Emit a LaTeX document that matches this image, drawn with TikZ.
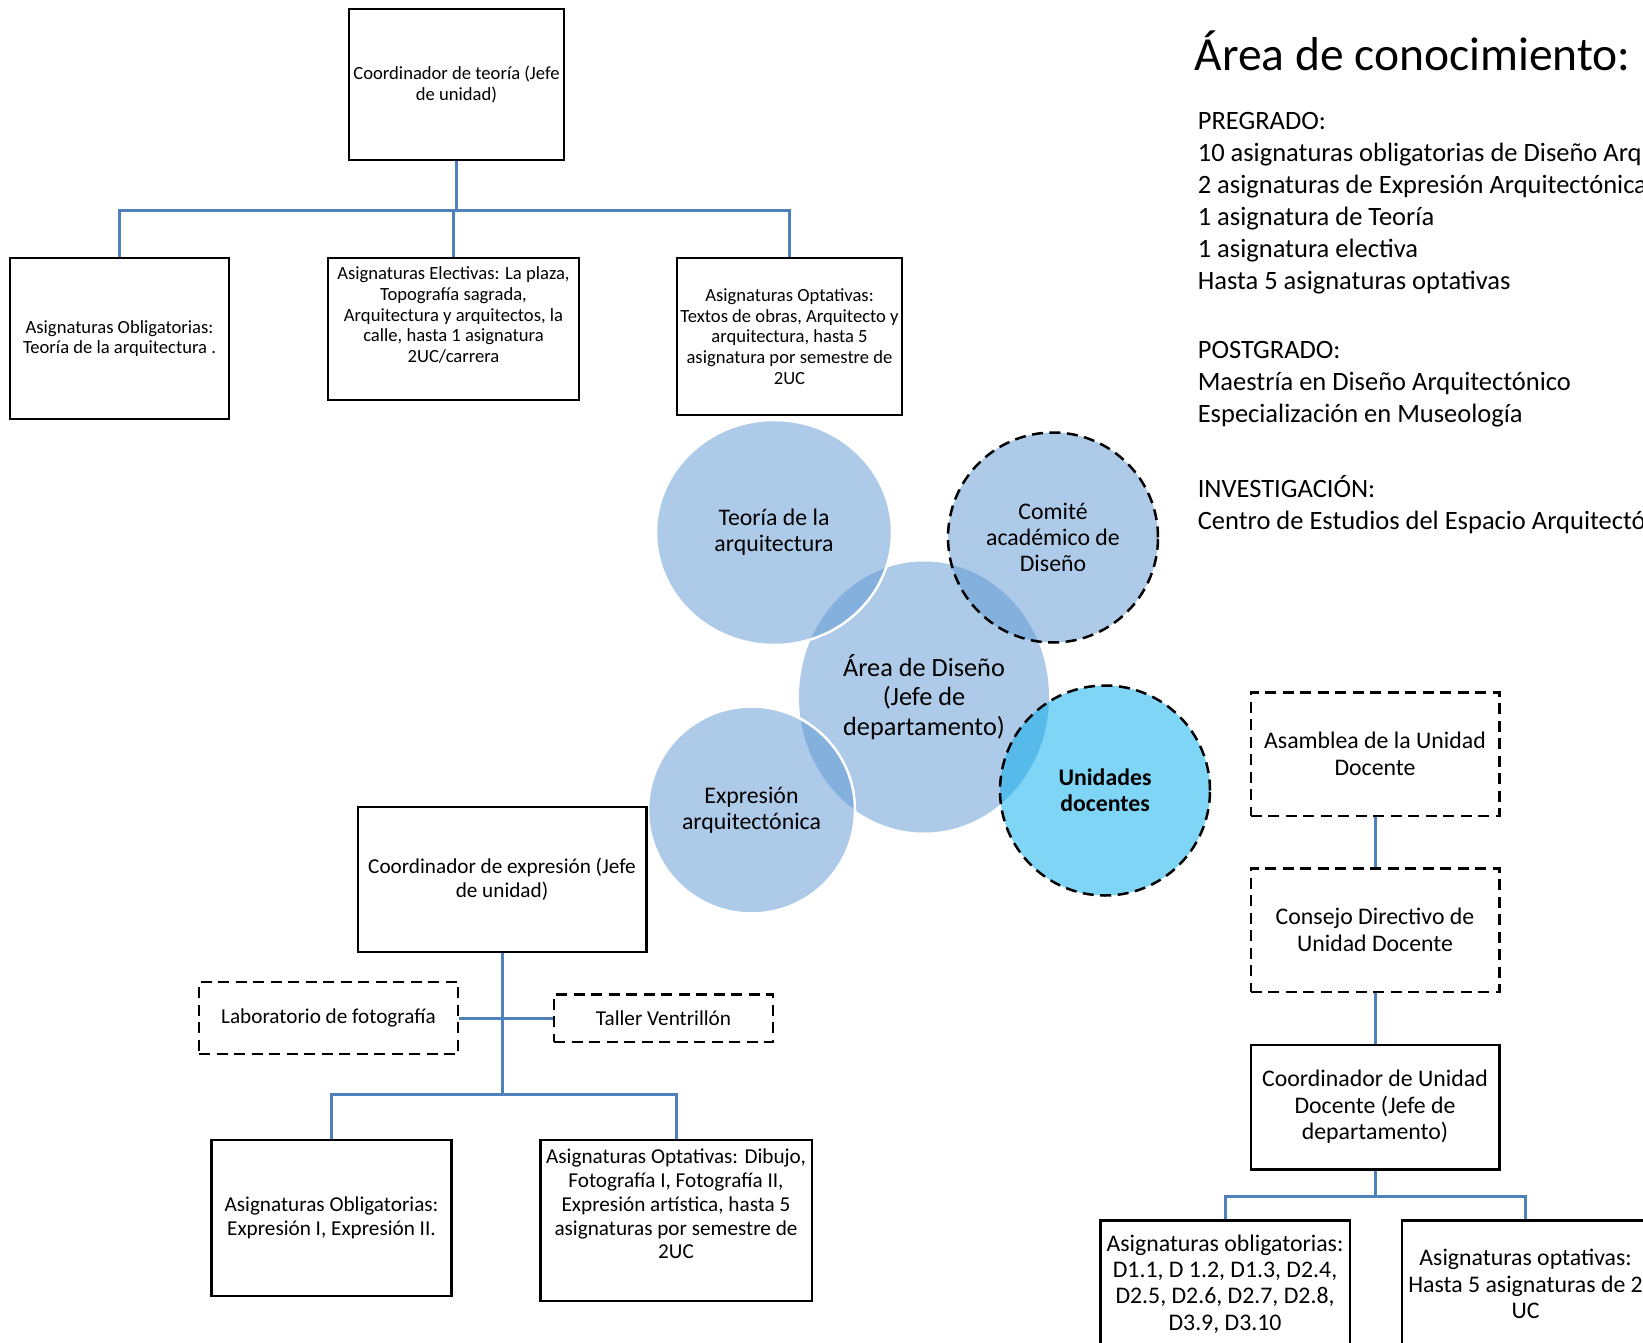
\documentclass[tikz,border=0pt]{standalone}
\usepackage{fontspec}
\setmainfont{Carlito}
\usetikzlibrary{shapes.geometric}
\definecolor{azulenlace}{RGB}{79,129,189}
\definecolor{azulcirc}{RGB}{93,151,211}
\definecolor{cianud}{RGB}{1,173,239}
\newcommand{\fuente}[2]{\fontsize{#1}{#2}\selectfont}
\begin{document}
\begin{tikzpicture}[x=1pt,y=-1pt,line join=miter,
		caja/.style={draw,line width=2.5pt,inner sep=0pt,align=center},
		cajapunt/.style={caja,dash pattern=on 11pt off 6.5pt},
		enlace/.style={draw=azulenlace,line width=3pt},
		circulo/.style={ellipse,fill=azulcirc,fill opacity=.5,text opacity=1,inner sep=0pt,align=center,font=\fuente{23.8}{26.2}},
		borde/.style={draw=white,line width=2.5pt},
		punteado/.style={draw=black,draw opacity=1,line width=2.5pt,dash pattern=on 11pt off 6.5pt},
		chica/.style={font=\fuente{18.6}{20.6}},
		media/.style={font=\fuente{21.2}{23.8}},
		grande/.style={font=\fuente{23.8}{26.4}},
		lista/.style={anchor=base west,inner sep=0pt,font=\fuente{26.5}{32}}]
	\fill[white] (0,0) rectangle (1643,1343);
	\useasboundingbox (0,0) rectangle (1643,1343);
	% teoria
	\node[caja,chica,minimum width=215pt,minimum height=151pt] (coordT) at (456.5,84.5) {Coordinador de teoría (Jefe\\de unidad)};
	\node[caja,chica,minimum width=219pt,minimum height=161pt] (oblT) at (119.5,338.5) {Asignaturas Obligatorias:\\Teoría de la arquitectura .};
	\node[caja,minimum width=251pt,minimum height=142pt] (elecT) at (453.5,329) {};
	\node[chica,align=center] (elecTx) at (453.5,315) {Asignaturas Electivas: La plaza,\\Topografía sagrada,\\Arquitectura y arquitectos, la\\calle, hasta 1 asignatura\\2UC/carrera};
	\node[caja,chica,minimum width=225pt,minimum height=157pt] (optT) at (789.5,336.5) {Asignaturas Optativas:\\Textos de obras, Arquitecto y\\arquitectura, hasta 5\\asignatura por semestre de\\2UC};
	\draw[enlace] (coordT.south) -- ++(0,49.5) coordinate (barT);
	\foreach \h in {oblT,elecT,optT}{
		\draw[enlace] (barT) -| (\h.north);
	};
	% circulos
	\node[circulo,minimum width=250pt,minimum height=271pt,font=\fuente{26.3}{29.3}] (area) at (924,697) {Área de Diseño\\(Jefe de\\departamento)};
	\node[circulo,borde,minimum width=236pt,minimum height=225pt] (teoria) at (774,532.5) {Teoría de la\\arquitectura};
	\node[circulo,borde,minimum width=207pt,minimum height=207pt] (expr) at (751.5,810) {Expresión\\arquitectónica};
	\node[circulo,punteado,minimum width=210pt,minimum height=210pt] (comite) at (1053,537.5) {Comité\\académico de\\Diseño};
	\node[circulo,punteado,fill=cianud,minimum width=210pt,minimum height=210pt] (unidades) at (1105,790.5) {\bfseries Unidades\\\bfseries docentes};
	% expresion
	\node[caja,media,minimum width=288.5pt,minimum height=145pt] (coordE) at (502,879.5) {Coordinador de expresión (Jefe\\de unidad)};
	\node[cajapunt,media,minimum width=259pt,minimum height=72pt] (lab) at (328.5,1018) {Laboratorio de fotografía};
	\node[cajapunt,media,minimum width=219pt,minimum height=47.5pt] (taller) at (663.5,1018) {Taller Ventrillón};
	\node[caja,media,minimum width=240pt,minimum height=156pt] (oblE) at (331.5,1218) {Asignaturas Obligatorias:\\Expresión I, Expresión II.};
	\node[caja,minimum width=271.5pt,minimum height=161pt] (optE) at (676,1220.5) {};
	\node[media,align=center] (optEx) at (676,1204) {Asignaturas Optativas: Dibujo,\\Fotografía I, Fotografía II,\\Expresión artística, hasta 5\\asignaturas por semestre de\\2UC};
	\draw[enlace] (coordE.south) -- ++(0,141) coordinate (barE);
	\draw[enlace] (barE) -| (oblE.north);
	\draw[enlace] (barE) -| (optE.north);
	\draw[enlace] (lab.east) -- (taller.west);
	% unidades docentes
	\node[cajapunt,grande,minimum width=248.5pt,minimum height=123.5pt] (asam) at (1375,754) {Asamblea de la Unidad\\Docente};
	\node[cajapunt,grande,minimum width=248.5pt,minimum height=123.5pt] (conse) at (1375,930) {Consejo Directivo de\\Unidad Docente};
	\node[caja,grande,minimum width=248.5pt,minimum height=124.5pt] (coordU) at (1375,1107) {Coordinador de Unidad\\Docente (Jefe de\\departamento)};
	\node[caja,minimum width=249.5pt,minimum height=200pt] (oblU) at (1225,1320.5) {};
	\node[grande,align=center] (oblUx) at (1225,1284) {Asignaturas obligatorias:\\D1.1, D 1.2, D1.3, D2.4,\\D2.5, D2.6, D2.7, D2.8,\\D3.9, D3.10};
	\node[caja,minimum width=247pt,minimum height=200pt] (optU) at (1525.6,1320.5) {};
	\node[grande,align=center] (optUx) at (1525.6,1284) {Asignaturas optativas:\\Hasta 5 asignaturas de 2\\UC};
	\draw[enlace] (asam.south) -- (conse.north);
	\draw[enlace] (conse.south) -- (coordU.north);
	\draw[enlace] (coordU.south) -- ++(0,25.5) coordinate (barU);
	\draw[enlace] (barU) -| (oblU.north);
	\draw[enlace] (barU) -| (optU.north);
	% area de conocimiento
	\node[anchor=base west,inner sep=0pt,font=\fuente{47.5}{57}] (titulo) at (1194.5,71) {Área de conocimiento:};
	\foreach \t [count=\i from 0] in {PREGRADO:,10 asignaturas obligatorias de Diseño Arquitectónico,2 asignaturas de Expresión Arquitectónica,1 asignatura de Teoría,1 asignatura electiva,Hasta 5 asignaturas optativas}{
		\node[lista] (pre\i) at (1197.6,129.5+32*\i) {\t};
	};
	\foreach \t [count=\i from 0] in {POSTGRADO:,Maestría en Diseño Arquitectónico,Especialización en Museología}{
		\node[lista] (pos\i) at (1197.6,358+32*\i) {\t};
	};
	\foreach \t [count=\i from 0] in {INVESTIGACIÓN:,Centro de Estudios del Espacio Arquitectónico}{
		\node[lista] (inv\i) at (1197.6,497+32*\i) {\t};
	};
\end{tikzpicture}
\end{document}
